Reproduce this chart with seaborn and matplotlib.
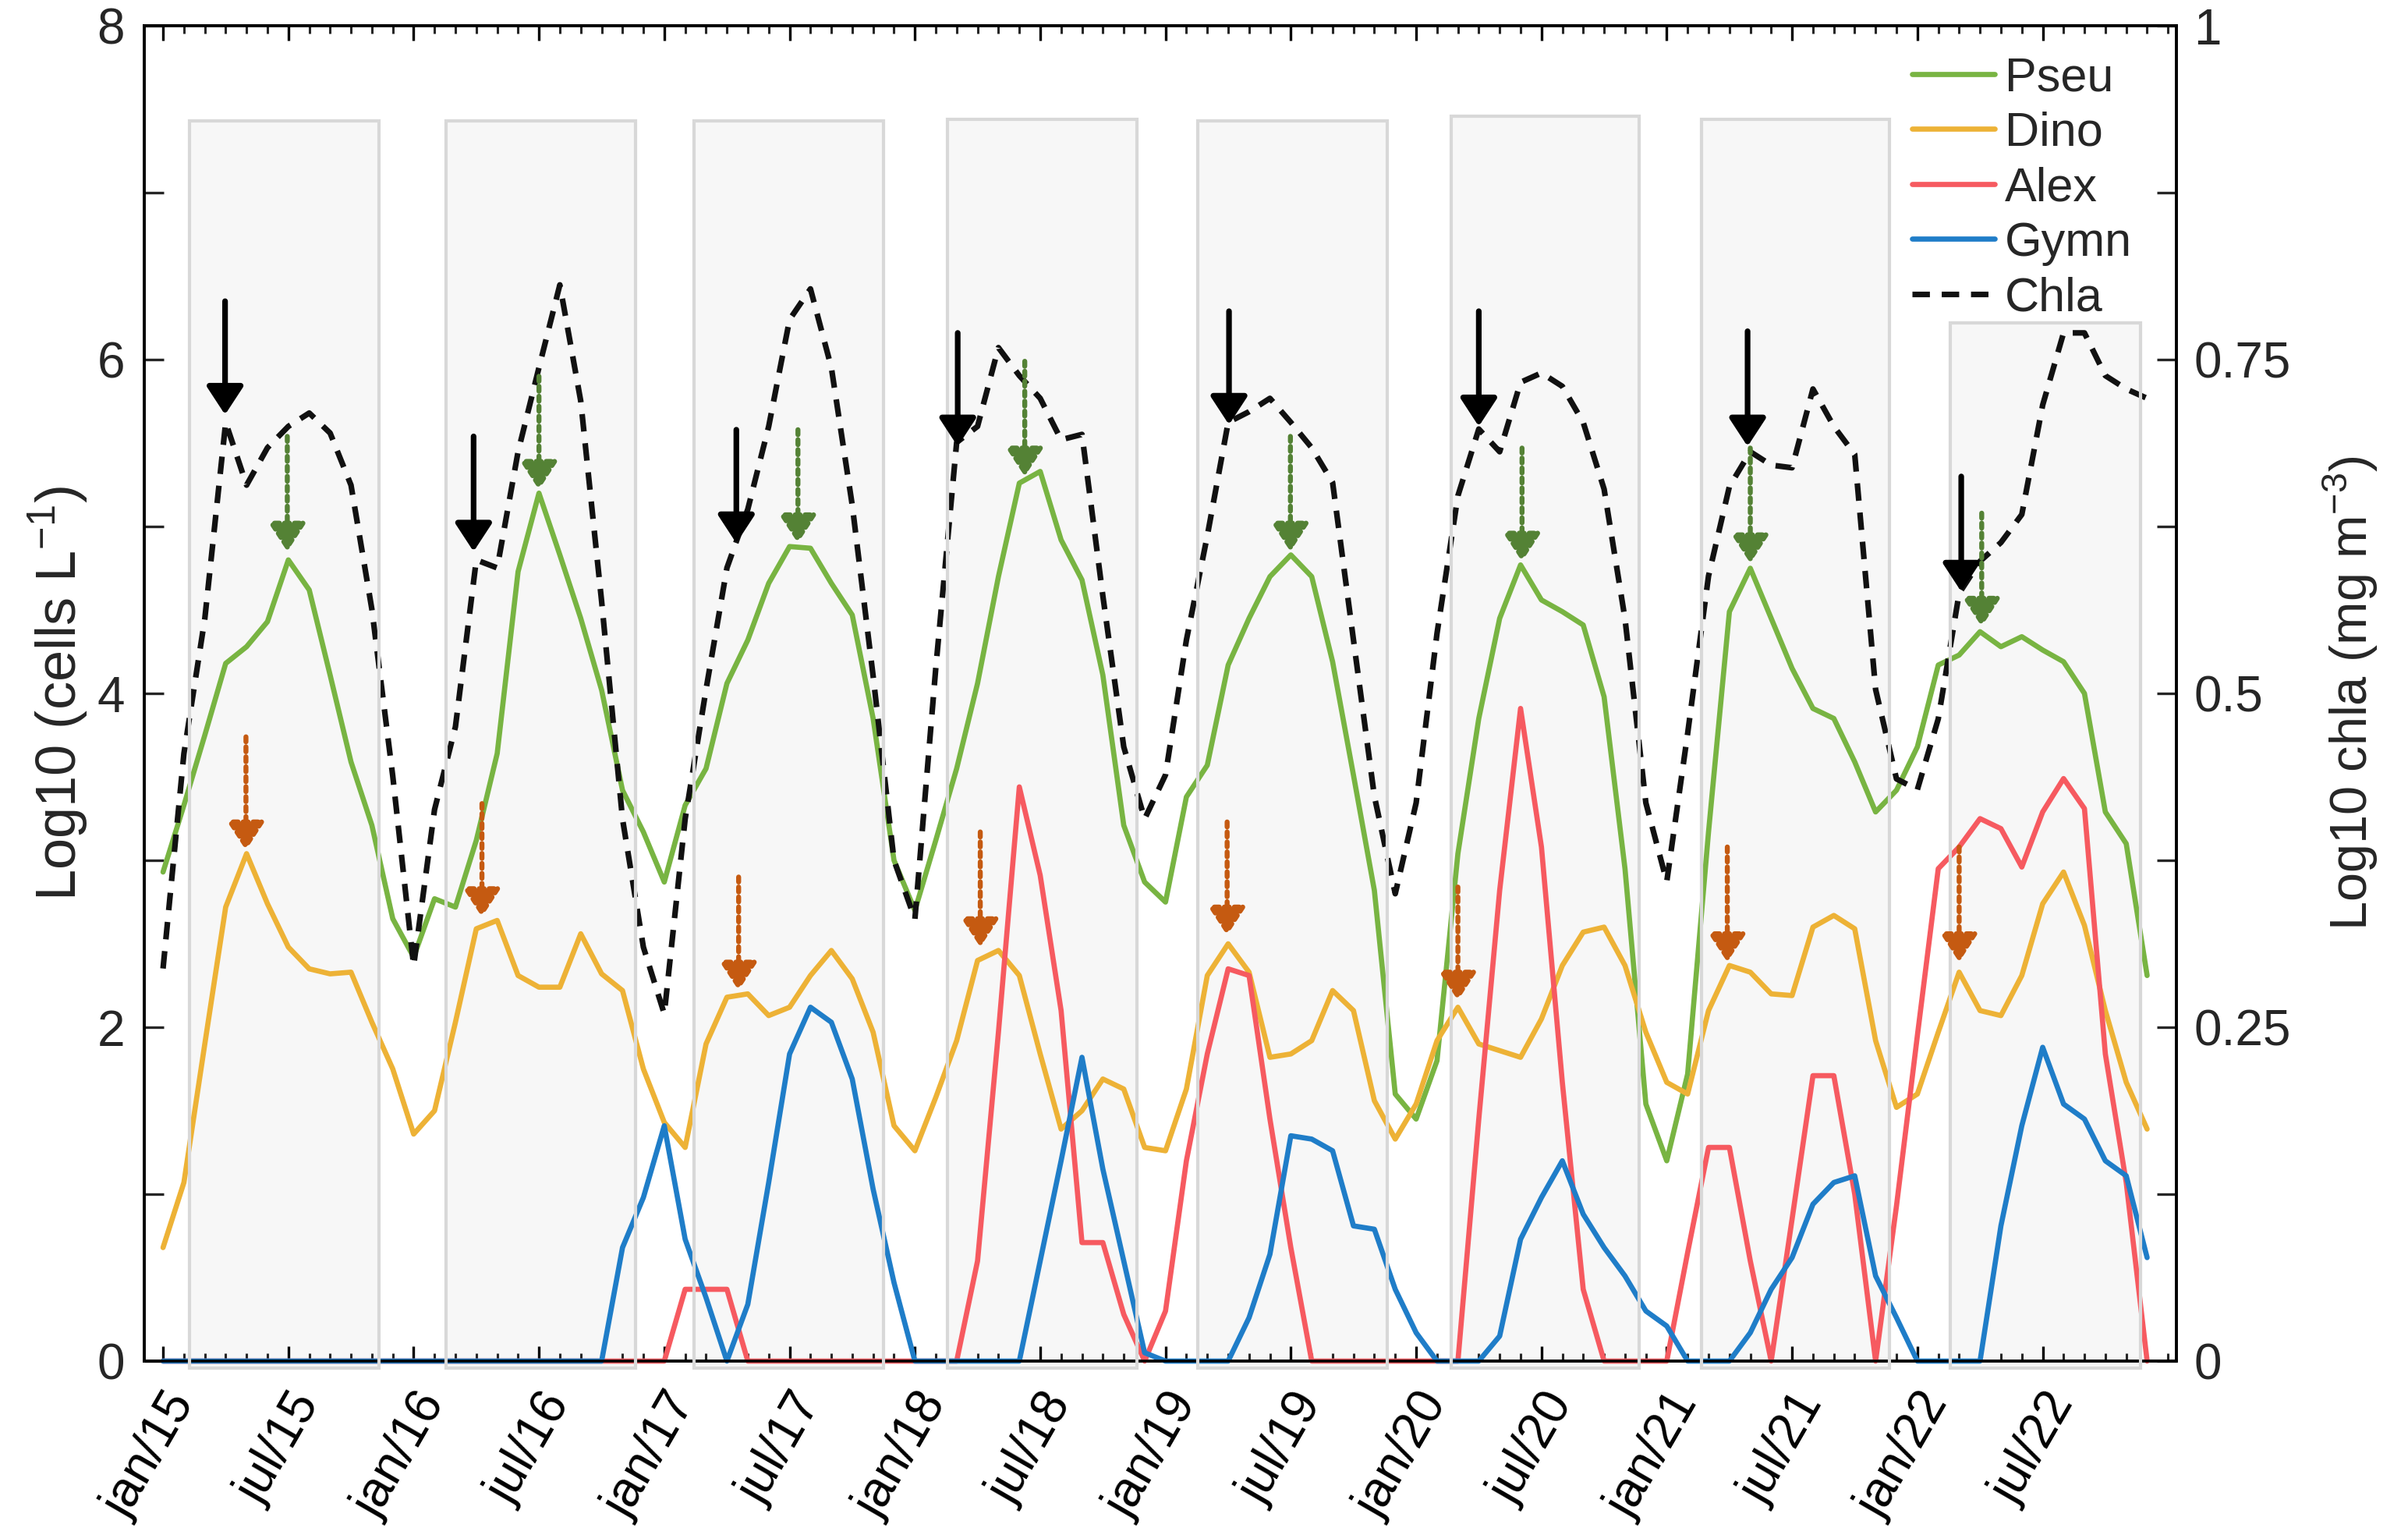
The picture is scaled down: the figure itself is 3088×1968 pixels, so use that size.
import numpy as np
import pandas as pd
import matplotlib
matplotlib.use('Agg')
import matplotlib.pyplot as plt
import seaborn as sns
from matplotlib.patches import Rectangle
from matplotlib.lines import Line2D

# ---------------- data ----------------
months = list(range(96))  # 0 = jan/15
tick_months = list(range(0, 96, 6))
tick_labels = ['jan/15', 'jul/15', 'jan/16', 'jul/16', 'jan/17', 'jul/17',
               'jan/18', 'jul/18', 'jan/19', 'jul/19', 'jan/20', 'jul/20',
               'jan/21', 'jul/21', 'jan/22', 'jul/22']

pseu = [2.93, 3.33, 3.75, 4.18, 4.28, 4.43, 4.80, 4.62, 4.11, 3.59, 3.21, 2.65,
        2.42, 2.77, 2.72, 3.12, 3.64, 4.73, 5.20, 4.83, 4.45, 4.02, 3.42, 3.17,
        2.87, 3.33, 3.55, 4.06, 4.32, 4.66, 4.88, 4.87, 4.66, 4.47, 3.85, 3.00,
        2.70, 3.12, 3.55, 4.06, 4.70, 5.26, 5.33, 4.92, 4.68, 4.11, 3.21, 2.87,
        2.75, 3.38, 3.57, 4.17, 4.45, 4.70, 4.83, 4.70, 4.19, 3.51, 2.82, 1.60,
        1.45, 1.80, 3.04, 3.85, 4.45, 4.77, 4.56, 4.49, 4.41, 3.98, 2.95, 1.54,
        1.20, 1.72, 3.17, 4.49, 4.75, 4.45, 4.15, 3.91, 3.85, 3.59, 3.29, 3.42,
        3.68, 4.17, 4.23, 4.37, 4.28, 4.34, 4.26, 4.19, 4.00, 3.29, 3.10, 2.31]

dino = [0.68, 1.07, 1.90, 2.72, 3.04, 2.74, 2.48, 2.35, 2.32, 2.33, 2.03, 1.75,
        1.36, 1.50, 2.03, 2.59, 2.64, 2.31, 2.24, 2.24, 2.56, 2.32, 2.22, 1.75,
        1.43, 1.28, 1.90, 2.18, 2.20, 2.07, 2.12, 2.31, 2.46, 2.29, 1.97, 1.41,
        1.26, 1.58, 1.92, 2.40, 2.46, 2.31, 1.84, 1.39, 1.50, 1.69, 1.63, 1.28,
        1.26, 1.63, 2.31, 2.50, 2.33, 1.82, 1.84, 1.92, 2.22, 2.10, 1.56, 1.33,
        1.54, 1.92, 2.12, 1.90, 1.86, 1.82, 2.05, 2.37, 2.57, 2.60, 2.37, 1.97,
        1.67, 1.60, 2.10, 2.37, 2.33, 2.20, 2.19, 2.60, 2.67, 2.59, 1.92, 1.52,
        1.60, 1.97, 2.33, 2.10, 2.07, 2.31, 2.74, 2.93, 2.61, 2.10, 1.67, 1.39]

alex = [0, 0, 0, 0, 0, 0, 0, 0, 0, 0, 0, 0,
        0, 0, 0, 0, 0, 0, 0, 0, 0, 0, 0, 0,
        0, 0.43, 0.43, 0.43, 0, 0, 0, 0, 0, 0, 0, 0,
        0, 0, 0, 0.60, 1.97, 3.44, 2.91, 2.10, 0.71, 0.71, 0.28, 0,
        0.30, 1.20, 1.84, 2.35, 2.31, 1.45, 0.68, 0, 0, 0, 0, 0,
        0, 0, 0, 1.45, 2.82, 3.91, 3.08, 1.67, 0.43, 0, 0, 0,
        0, 0.65, 1.28, 1.28, 0.60, 0, 0.85, 1.71, 1.71, 1.00, 0, 0.93,
        1.95, 2.95, 3.08, 3.25, 3.19, 2.96, 3.29, 3.49, 3.31, 1.84, 1.07, 0]

gymn = [0, 0, 0, 0, 0, 0, 0, 0, 0, 0, 0, 0,
        0, 0, 0, 0, 0, 0, 0, 0, 0, 0, 0.68, 0.98,
        1.41, 0.73, 0.38, 0, 0.34, 1.07, 1.84, 2.12, 2.03, 1.69, 1.03, 0.47,
        0, 0, 0, 0, 0, 0, 0.60, 1.20, 1.82, 1.15, 0.60, 0.05,
        0, 0, 0, 0, 0.26, 0.64, 1.35, 1.33, 1.26, 0.81, 0.79, 0.43,
        0.17, 0, 0, 0, 0.15, 0.73, 0.98, 1.20, 0.88, 0.68, 0.51, 0.30,
        0.21, 0, 0, 0, 0.17, 0.43, 0.62, 0.94, 1.07, 1.11, 0.51, 0.26,
        0, 0, 0, 0, 0.81, 1.41, 1.88, 1.54, 1.45, 1.20, 1.11, 0.62]

# log10 chla (right axis)
chla = [0.294, 0.455, 0.556, 0.703, 0.656, 0.684, 0.700, 0.710, 0.695, 0.656, 0.563, 0.438,
        0.296, 0.413, 0.475, 0.600, 0.594, 0.681, 0.744, 0.806, 0.719, 0.569, 0.406, 0.310,
        0.260, 0.406, 0.503, 0.594, 0.638, 0.700, 0.780, 0.803, 0.744, 0.641, 0.513, 0.375,
        0.331, 0.519, 0.688, 0.700, 0.759, 0.738, 0.721, 0.690, 0.694, 0.573, 0.460, 0.406,
        0.439, 0.540, 0.618, 0.703, 0.711, 0.721, 0.703, 0.684, 0.658, 0.540, 0.423, 0.350,
        0.418, 0.545, 0.648, 0.698, 0.681, 0.733, 0.740, 0.730, 0.703, 0.653, 0.556, 0.418,
        0.359, 0.470, 0.588, 0.655, 0.681, 0.671, 0.669, 0.728, 0.700, 0.679, 0.503, 0.436,
        0.428, 0.481, 0.575, 0.599, 0.613, 0.634, 0.716, 0.770, 0.770, 0.738, 0.728, 0.721]

# shaded periods (month units, left-axis units for top)
span_start = [1.28, 13.55, 25.44, 37.57, 49.56, 61.69, 73.68, 85.58]
span_end = [10.35, 22.62, 34.48, 46.62, 58.60, 70.66, 82.65, 94.67]
span_top = [7.43, 7.43, 7.43, 7.44, 7.43, 7.46, 7.44, 6.22]

# arrows (month, top, tip) in left-axis units
chla_arrow_x = [2.97, 14.87, 27.45, 38.05, 51.04, 63.0, 75.87, 86.1]
chla_arrow_top = [6.35, 5.54, 5.58, 6.16, 6.29, 6.29, 6.17, 5.30]
chla_arrow_tip = [5.67, 4.85, 4.90, 5.48, 5.61, 5.60, 5.48, 4.61]

pseu_arrow_x = [5.95, 18.0, 30.4, 41.26, 53.98, 65.07, 76.0, 87.08]
pseu_arrow_top = [5.54, 5.90, 5.58, 5.99, 5.54, 5.47, 5.47, 5.08]
pseu_arrow_tip = [4.85, 5.22, 4.90, 5.30, 4.85, 4.79, 4.78, 4.40]

dino_arrow_x = [3.97, 15.27, 27.56, 39.13, 50.95, 62.0, 74.9, 86.0]
dino_arrow_top = [3.74, 3.34, 2.90, 3.17, 3.23, 2.84, 3.08, 3.08]
dino_arrow_tip = [3.06, 2.66, 2.22, 2.48, 2.55, 2.16, 2.39, 2.39]

taxa = ['Pseu', 'Dino', 'Alex', 'Gymn']
colors = {'Pseu': '#78B442', 'Dino': '#EDB236', 'Alex': '#F65A60', 'Gymn': '#1F7DC8'}

# ---------------- style ----------------
sns.set_theme(style='ticks')
plt.rcParams['font.family'] = ['Liberation Sans', 'DejaVu Sans']
plt.rcParams['mathtext.fontset'] = 'custom'
plt.rcParams['mathtext.rm'] = 'Liberation Sans'
plt.rcParams['mathtext.it'] = 'Liberation Sans:italic'
plt.rcParams['axes.linewidth'] = 1.3

fig = plt.figure(figsize=(15.44, 9.84), dpi=200)
ax = fig.add_axes([0.0599, 0.1133, 0.8439, 0.8699])
ax2 = ax.twinx()

df = pd.DataFrame({
    'month': months * 4,
    'value': pseu + dino + alex + gymn,
    'taxon': sum([[t] * len(months) for t in taxa], []),
})

sns.lineplot(data=df, x='month', y='value', hue='taxon', hue_order=taxa,
             palette=colors, lw=2.4, ax=ax, legend=False, errorbar=None,
             zorder=3, clip_on=False)
sns.lineplot(x=months, y=chla, ax=ax2, color='#111111', lw=2.6,
             errorbar=None, clip_on=False)
ax2.lines[-1].set_linestyle((0, (3.1, 2.1)))

# shaded periods: faces behind, edges on top
for s, e, t in zip(span_start, span_end, span_top):
    ax.add_patch(Rectangle((s, -0.04), e - s, t + 0.04, facecolor='#F7F7F7',
                           edgecolor='none', zorder=0.5, clip_on=False))
    ax2.add_patch(Rectangle((s, -0.04), e - s, t + 0.04, transform=ax.transData,
                            facecolor='none', edgecolor='#D8D8D8', lw=1.5,
                            zorder=5, clip_on=False))


def arrow(x, top, tip, color, ls, lw):
    ax2.annotate('', xy=(x, tip), xytext=(x, top),
                 xycoords=ax.transData, textcoords=ax.transData,
                 arrowprops=dict(arrowstyle='-|>,head_length=0.55,head_width=0.36',
                                 mutation_scale=20, color=color, lw=lw,
                                 linestyle=ls, shrinkA=0, shrinkB=0),
                 zorder=6, annotation_clip=False)


for x, t, p in zip(chla_arrow_x, chla_arrow_top, chla_arrow_tip):
    arrow(x, t, p, 'black', '-', 2.6)
for x, t, p in zip(pseu_arrow_x, pseu_arrow_top, pseu_arrow_tip):
    arrow(x, t, p, '#548235', (0, (1, 1)), 2.3)
for x, t, p in zip(dino_arrow_x, dino_arrow_top, dino_arrow_tip):
    arrow(x, t, p, '#C55A11', (0, (1, 1)), 2.3)

# ---------------- axes ----------------
ax.set_xlim(-0.9, 96.4)
ax.set_ylim(0, 8)
ax2.set_ylim(0, 1)

ax.set_xticks(tick_months)
ax.set_xticklabels(tick_labels, rotation=60, ha='right', va='top',
                   rotation_mode='anchor', fontsize=23)
ax.set_xticks(list(range(0, 97)), minor=True)
ax.set_yticks([0, 2, 4, 6, 8])
ax.set_yticklabels(['0', '2', '4', '6', '8'])
ax.set_yticks([1, 3, 5, 7], minor=True)
ax2.set_yticks([0, 0.25, 0.5, 0.75, 1])
ax2.set_yticklabels(['0', '0.25', '0.5', '0.75', '1'])
ax2.set_yticks([0.125, 0.375, 0.625, 0.875], minor=True)

ax.tick_params(axis='x', which='major', direction='in', length=7, width=1.2,
               top=True, pad=11, colors='black')
ax.tick_params(axis='x', which='minor', direction='in', length=3.5, width=1.1,
               top=True)
ax.tick_params(axis='y', which='both', direction='in', length=9, width=1.2,
               pad=9, labelsize=23)
ax2.tick_params(axis='y', which='both', direction='in', length=9, width=1.2,
                pad=8, labelsize=23)

for a in (ax, ax2):
    for sp in a.spines.values():
        sp.set_visible(True)
        sp.set_color('black')
        sp.set_linewidth(1.3)

ax.set_xlabel('')
ax.set_ylabel('Log10 (cells L$^{-1}$)', fontsize=26, labelpad=3)
ax2.set_ylabel('Log10 chla (mg m$^{-3}$)', fontsize=24, labelpad=14)

# ---------------- legend ----------------
handles = [Line2D([], [], color=colors[t], lw=2.4) for t in taxa]
handles.append(Line2D([], [], color='#111111', lw=2.6, ls=(0, (3.1, 2.1))))
leg = ax2.legend(handles, taxa + ['Chla'], loc='upper left',
                 bbox_to_anchor=(0.870, 0.977), frameon=False, fontsize=22,
                 handlelength=1.73, handletextpad=0.22, labelspacing=0.22,
                 borderpad=0, borderaxespad=0)
leg.set_zorder(10)

fig.savefig('out.png', dpi=200)
